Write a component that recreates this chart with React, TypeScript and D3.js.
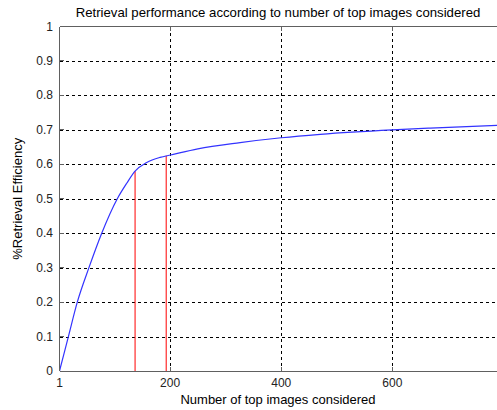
import React from "react";
import * as d3 from "d3";

const curveX = [1, 17, 33, 54, 77, 105, 122, 137, 158, 182, 201, 250, 326, 400, 470, 600, 668, 789];
const curveY = [0, 0.1, 0.2, 0.3, 0.4, 0.5, 0.545, 0.58, 0.605, 0.62, 0.627, 0.645, 0.663, 0.677, 0.687, 0.7, 0.705, 0.713];
const redX = [137, 193];
const redY = [0.58, 0.625];
const xTicks = [1, 200, 400, 600];
const yTicks = [0, 0.1, 0.2, 0.3, 0.4, 0.5, 0.6, 0.7, 0.8, 0.9, 1];

export default function App() {
  const W = 497, H = 410;
  const left = 59.5, right = 503.5, top = 26.5, bottom = 371;
  const x = d3.scaleLinear().domain([1, 800]).range([left, right]);
  const y = d3.scaleLinear().domain([0, 1]).range([bottom, top]);
  const pts = curveX.map((v, i) => [v, curveY[i]] as [number, number]);
  const line = d3.line<[number, number]>().x(d => x(d[0])).y(d => y(d[1])).curve(d3.curveMonotoneX);
  const font = "'Liberation Sans', Arial, sans-serif";
  const axisColor = "#606060";
  return (
    <svg width={W} height={H} style={{ position: "absolute", left: 0, top: 0, background: "#fff" }} fontFamily={font}>
      <rect x={0} y={0} width={W} height={H} fill="#fff" />
      {xTicks.filter(t => t !== 1).map(t => (
        <line key={"gx" + t} x1={x(t)} x2={x(t)} y1={top} y2={bottom} stroke="#000" strokeWidth={1} strokeDasharray="3,3" shapeRendering="crispEdges" />
      ))}
      {yTicks.filter(t => t !== 0 && t !== 1).map(t => (
        <line key={"gy" + t} x1={left} x2={right} y1={Math.round(y(t)) + 0.5} y2={Math.round(y(t)) + 0.5} stroke="#000" strokeWidth={1} strokeDasharray="3,3" shapeRendering="crispEdges" />
      ))}
      {redX.map((v, i) => (
        <line key={"r" + i} x1={x(v)} x2={x(v)} y1={bottom} y2={y(redY[i])} stroke="#ff0000" strokeWidth={1} />
      ))}
      <path d={line(pts) || ""} fill="none" stroke="#3333ff" strokeWidth={1.2} />
      <line x1={left} x2={right} y1={bottom} y2={bottom} stroke={axisColor} strokeWidth={1} shapeRendering="crispEdges" />
      <line x1={left} x2={right} y1={top} y2={top} stroke={axisColor} strokeWidth={1} shapeRendering="crispEdges" />
      <line x1={left} x2={left} y1={top} y2={bottom} stroke={axisColor} strokeWidth={1} shapeRendering="crispEdges" />
      {xTicks.map(t => (
        <g key={"tx" + t}>
          <line x1={x(t)} x2={x(t)} y1={bottom} y2={bottom - 4} stroke={axisColor} shapeRendering="crispEdges" />
          <line x1={x(t)} x2={x(t)} y1={top} y2={top + 4} stroke={axisColor} shapeRendering="crispEdges" />
          <text x={x(t)} y={387} fontSize={12} fill="#222" textAnchor="middle">{t}</text>
        </g>
      ))}
      {yTicks.map(t => (
        <g key={"ty" + t}>
          <line x1={left} x2={left + 4} y1={y(t)} y2={y(t)} stroke={axisColor} shapeRendering="crispEdges" />
          <text x={53} y={y(t) + 4} fontSize={12} fill="#222" textAnchor="end">{t}</text>
        </g>
      ))}
      <text x={278} y={17} fontSize={13.2} fill="#000" textAnchor="middle">Retrieval performance according to number of top images considered</text>
      <text x={278} y={404} fontSize={13} fill="#000" textAnchor="middle">Number of top images considered</text>
      <text transform={`translate(22,${(top + bottom) / 2}) rotate(-90)`} fontSize={13} fill="#000" textAnchor="middle">%Retrieval Efficiency</text>
    </svg>
  );
}
